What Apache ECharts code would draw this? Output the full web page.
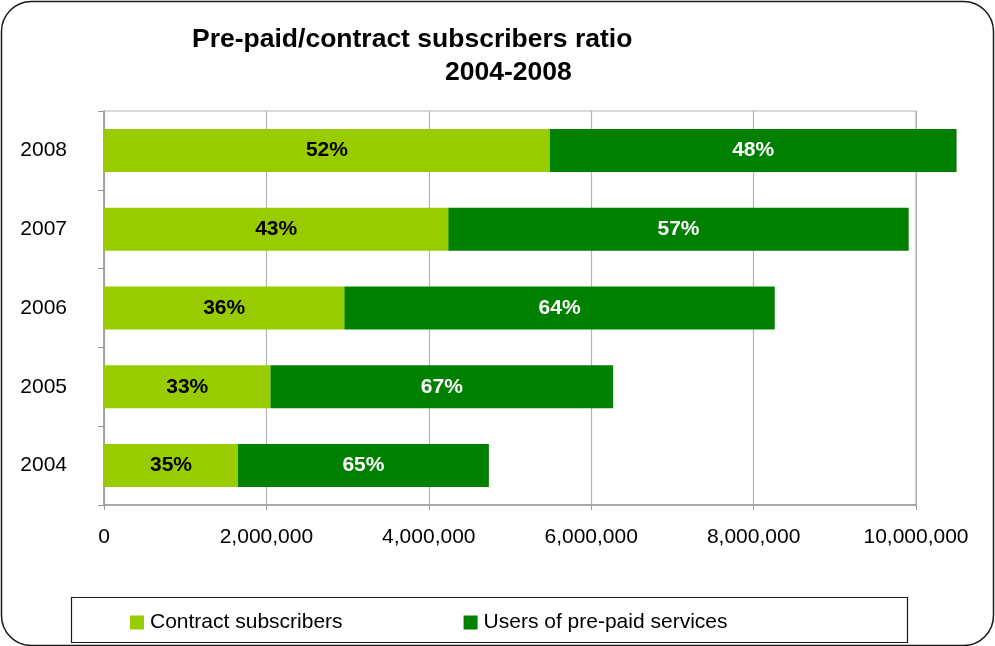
<!DOCTYPE html>
<html>
<head>
<meta charset="utf-8">
<script src="https://cdn.jsdelivr.net/npm/echarts@6/dist/echarts.min.js"></script>
<style>
  html, body { margin: 0; padding: 0; background: #fff; }
  #chart { width: 995px; height: 646px; }
</style>
</head>
<body>
<div id="chart"></div>
<script>
// Subscriber counts per year
const years = ['2004', '2005', '2006', '2007', '2008'];
const contractSubscribers = [1650000, 2050000, 2960000, 4240000, 5490000];
const prepaidUsers = [3090000, 4220000, 5300000, 5670000, 5010000];
const xTicks = [0, 2000000, 4000000, 6000000, 8000000, 10000000];

const totals = years.map((_, i) => contractSubscribers[i] + prepaidUsers[i]);
const pct = (arr) => (p) => Math.round(arr[p.dataIndex] / totals[p.dataIndex] * 100) + '%';

const FONT = 'Liberation Sans, Arial, sans-serif';
const chart = echarts.init(document.getElementById('chart'), null, { renderer: 'canvas' });

chart.setOption({
  backgroundColor: '#ffffff',
  animation: false,
  textStyle: { fontFamily: FONT },
  graphic: [
    {
      type: 'rect', z: -10,
      shape: { x: 1.5, y: 1.5, width: 992, height: 644, r: 30 },
      style: { fill: '#ffffff', stroke: '#1a1a1a', lineWidth: 1.5 }
    },
    {
      type: 'rect', z: -5,
      shape: { x: 71.5, y: 597.5, width: 836, height: 45 },
      style: { fill: '#ffffff', stroke: '#1a1a1a', lineWidth: 1.2 }
    },
    {
      type: 'text', left: 192, top: 26,
      style: { text: 'Pre-paid/contract subscribers ratio', fontFamily: FONT, fontSize: 26.5, fontWeight: 'bold', fill: '#000' }
    },
    {
      type: 'text', left: 445, top: 59,
      style: { text: '2004-2008', fontFamily: FONT, fontSize: 26.5, fontWeight: 'bold', fill: '#000' }
    }
  ],
  legend: {
    left: 130, top: 612, padding: 0,
    itemWidth: 14, itemHeight: 14, itemGap: 121,
    icon: 'rect',
    textStyle: { fontFamily: FONT, fontSize: 21, color: '#000', padding: [2, 0, 0, 1] },
    data: ['Contract subscribers', 'Users of pre-paid services']
  },
  grid: {
    left: 104, top: 111, right: 79, bottom: 141,
    show: true, borderColor: '#b3b3b3', borderWidth: 1
  },
  xAxis: {
    type: 'value', min: 0, max: 10000000, interval: 2000000,
    axisLine: { show: true, lineStyle: { color: '#999999', width: 1.5 } },
    axisTick: { show: true, length: 5, lineStyle: { color: '#999999' } },
    splitLine: { show: true, lineStyle: { color: '#b3b3b3', width: 1.2 } },
    axisLabel: {
      margin: 22, fontSize: 21, color: '#000', fontFamily: FONT,
      formatter: (v) => xTicks.includes(v) ? v.toLocaleString('en-US') : ''
    }
  },
  yAxis: {
    type: 'category', data: years,
    axisLine: { show: true, lineStyle: { color: '#999999', width: 1.5 } },
    axisTick: { show: true, length: 6, lineStyle: { color: '#999999' } },
    axisLabel: { margin: 37, fontSize: 21, color: '#000', fontFamily: FONT, padding: [4, 0, 0, 0] }
  },
  series: [
    {
      name: 'Contract subscribers', type: 'bar', stack: 'total',
      data: contractSubscribers, barWidth: 43, clip: false,
      itemStyle: { color: '#99cc00' },
      label: { show: true, position: 'inside', formatter: pct(contractSubscribers),
        fontFamily: FONT, fontSize: 21, fontWeight: 'bold', color: '#000' }
    },
    {
      name: 'Users of pre-paid services', type: 'bar', stack: 'total',
      data: prepaidUsers, barWidth: 43, clip: false,
      itemStyle: { color: '#008000' },
      label: { show: true, position: 'inside', formatter: pct(prepaidUsers),
        fontFamily: FONT, fontSize: 21, fontWeight: 'bold', color: '#fff' }
    }
  ]
});
</script>
</body>
</html>
